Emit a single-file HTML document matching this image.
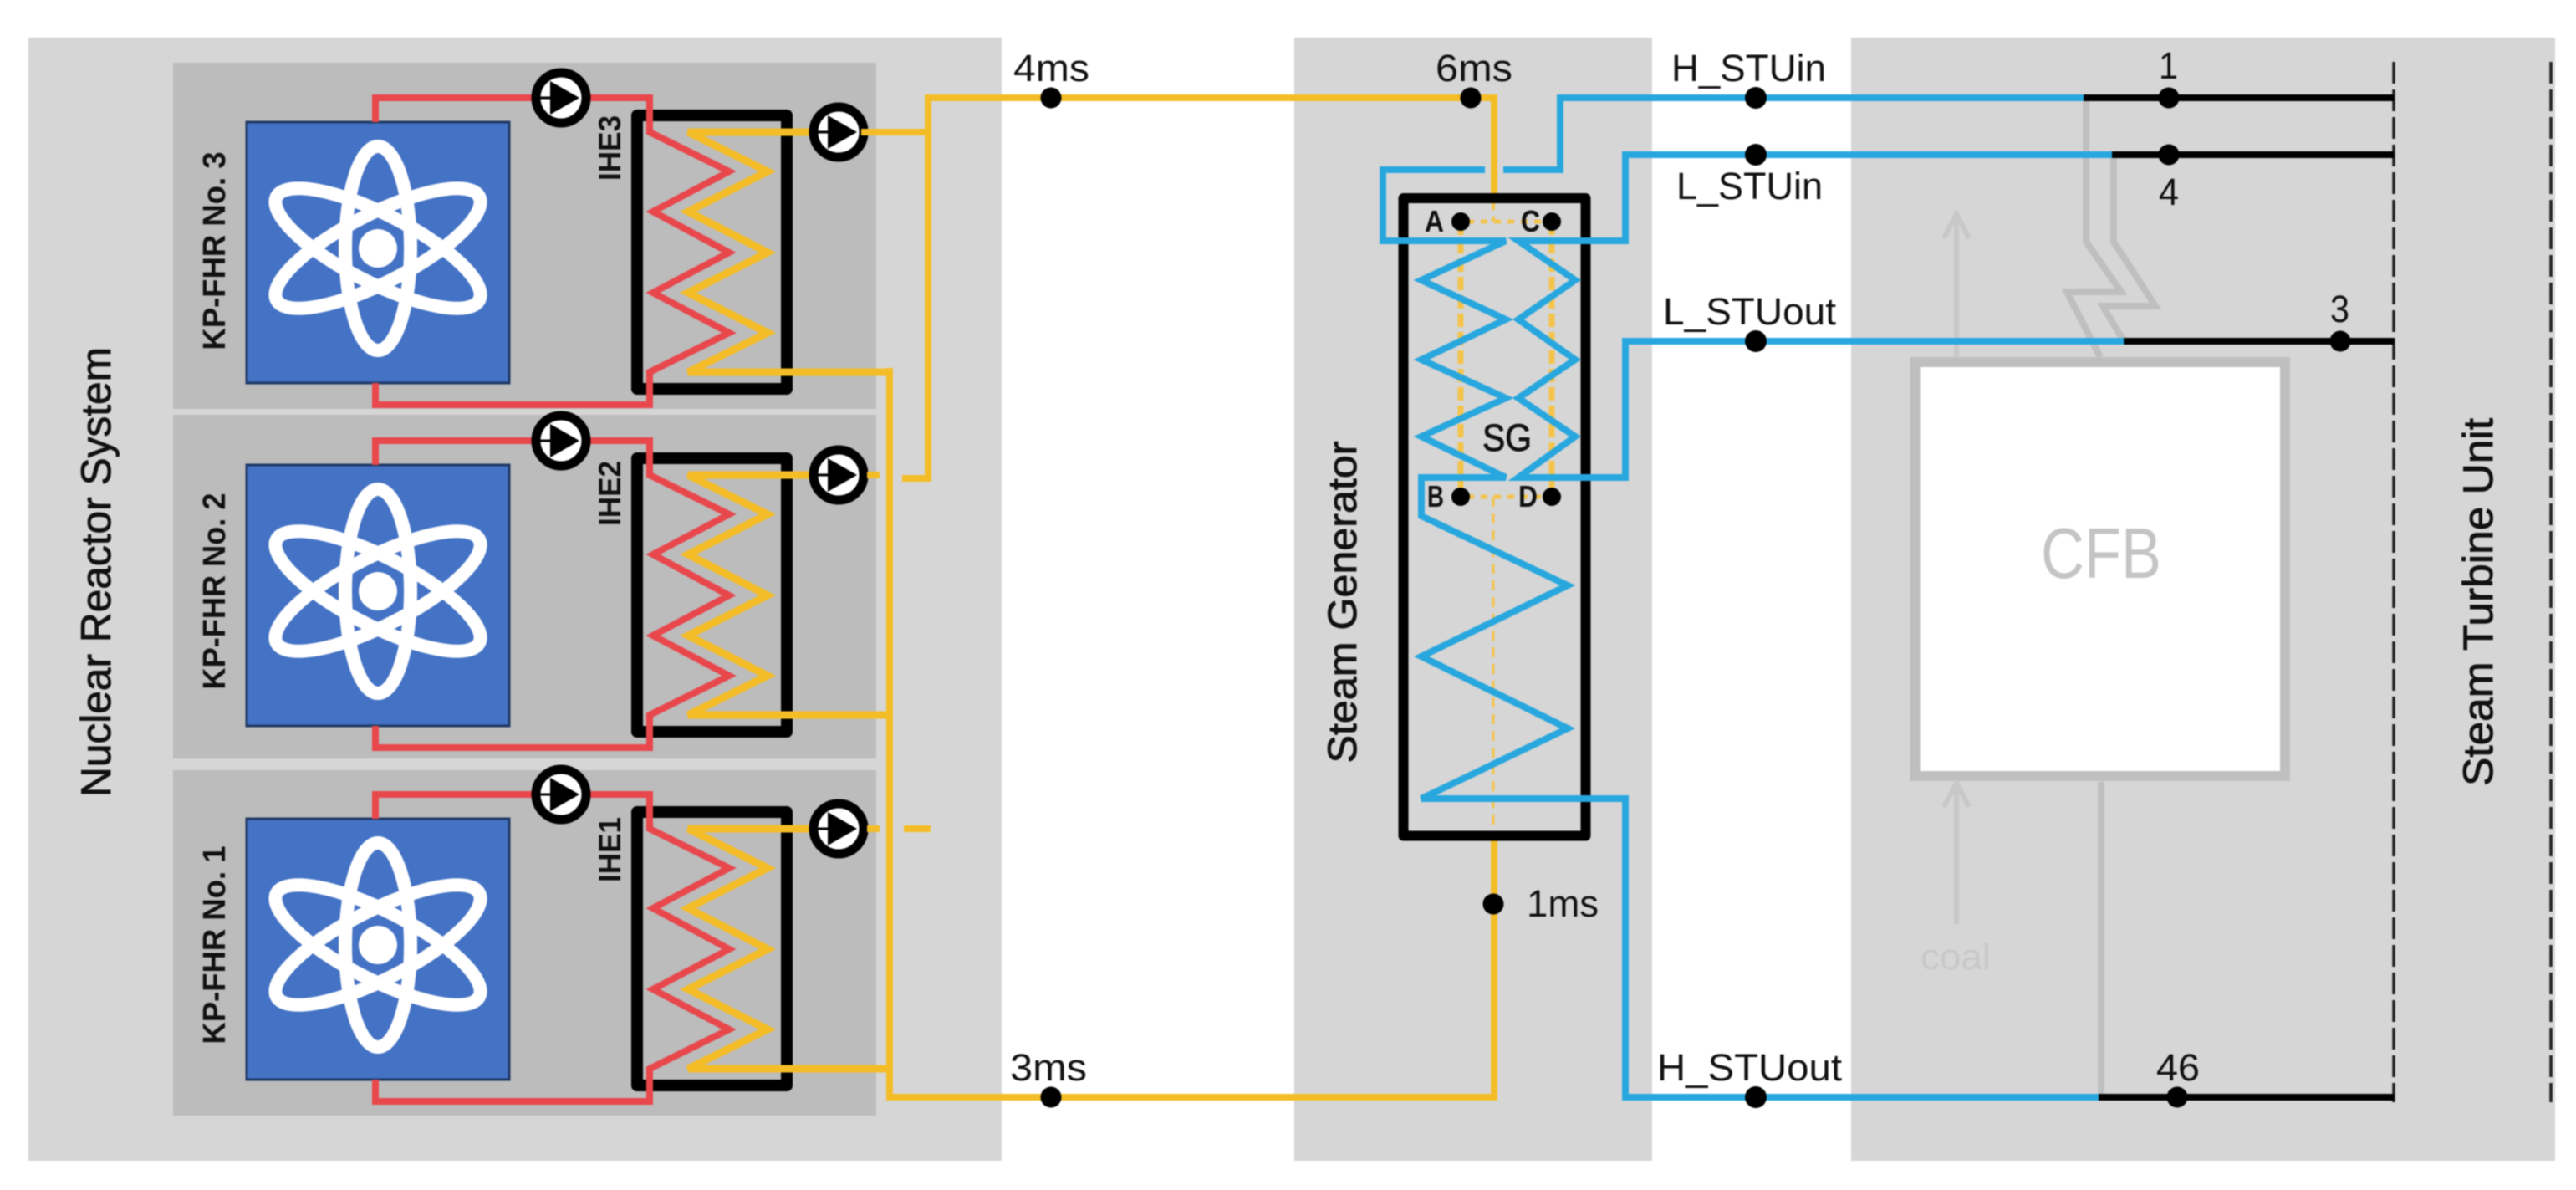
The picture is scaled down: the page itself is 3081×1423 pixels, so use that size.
<!DOCTYPE html>
<html lang="en">
<head>
<meta charset="utf-8">
<title>Nuclear reactor, steam generator and steam turbine system</title>
<style>
html,body{margin:0;padding:0;background:#fff;width:3081px;height:1423px;overflow:hidden}
svg{display:block;filter:blur(.9px)}
text{font-family:"Liberation Sans",sans-serif;fill:#111}
.b{font-weight:bold}
.s{stroke:#111;stroke-width:.9px}
</style>
</head>
<body>
<svg xmlns="http://www.w3.org/2000/svg" width="3081" height="1423" viewBox="0 0 3081 1423">
<defs>
<g id="unit">
  <rect x="295" y="146" width="314" height="312" fill="#4472c4" stroke="#1f3864" stroke-width="3"/>
  <g fill="none" stroke="#fff" stroke-width="16">
    <ellipse cx="452" cy="297" rx="39" ry="122"/>
    <ellipse cx="452" cy="297" rx="136" ry="41" transform="rotate(27 452 297)"/>
    <ellipse cx="452" cy="297" rx="136" ry="41" transform="rotate(-27 452 297)"/>
  </g>
  <circle cx="452" cy="297" r="23" fill="#fff"/>
  <rect x="762" y="138" width="179" height="327" fill="none" stroke="#000" stroke-width="14" stroke-linejoin="round"/>
  <path d="M449 146V117H777V158L872 205L781 253L872 302L781 350L872 398L777 445V484H449V458" fill="none" stroke="#e8474c" stroke-width="8"/>
  <path d="M1002 158H823L918 205L823 253L918 302L823 350L918 398L823 445H1064" fill="none" stroke="#f4bd27" stroke-width="9"/>
  <g id="pump">
    <circle cx="671" cy="117" r="30" fill="#fff" stroke="#000" stroke-width="11"/>
    <path d="M646 117H660" stroke="#000" stroke-width="3"/>
    <path d="M658 97L693 117L658 137Z" fill="#000"/>
  </g>
  <use href="#pump" x="332" y="41"/>
</g>
</defs>

<rect width="3081" height="1423" fill="#fff"/>
<rect x="34" y="45" width="1164" height="1343" fill="#d6d6d6"/>
<rect x="1548" y="45" width="428" height="1343" fill="#d6d6d6"/>
<rect x="2214" y="45" width="842" height="1343" fill="#d6d6d6"/>
<rect x="207" y="75" width="841" height="414" fill="#bcbcbc"/>
<rect x="207" y="496" width="841" height="411" fill="#bcbcbc"/>
<rect x="207" y="921" width="841" height="413" fill="#bcbcbc"/>

<use href="#unit"/>
<use href="#unit" y="410"/>
<use href="#unit" y="833"/>

<!-- hot-side yellow headers -->
<g fill="none" stroke="#f4bd27" stroke-width="8">
  <path d="M1030 158H1110"/>
  <path d="M1757 117H1110V572H1079"/>
  <path d="M1037 568H1052"/>
  <path d="M1037 991H1052M1081 991H1113"/>
  <path d="M1064 440V1312H1787V1005"/>
  <path d="M1759 117H1787V234"/>
</g>

<!-- dashed lines -->
<g fill="none" stroke="#222" stroke-width="3.5" stroke-dasharray="26 7">
  <path d="M2863 74V1318"/>
  <path d="M3051 74V1318"/>
</g>

<!-- CFB -->
<g fill="none" stroke="#bfbfbf" stroke-width="8">
  <path d="M2495 117V289L2537 349H2472L2512 427"/>
  <path d="M2528 185V289L2578 366H2515L2540 408"/>
  <path d="M2513 935V1312"/>
</g>
<rect x="2290.500" y="433" width="442.500" height="495" fill="#fff" stroke="#bfbfbf" stroke-width="12"/>
<g fill="none" stroke="#c8c8c8" stroke-width="6">
  <path d="M2340 427V258M2325 285L2340 256L2355 285"/>
  <path d="M2340 1105V938M2325 965L2340 936L2355 965"/>
</g>

<!-- SG box -->
<rect x="1678.500" y="237" width="218" height="762.500" fill="none" stroke="#000" stroke-width="12" stroke-linejoin="round"/>
<g fill="none" stroke="#f4c34a">
  <path d="M1747 265V594M1856 265V594" stroke-width="7" stroke-dasharray="16 6"/>
  <path d="M1755 265H1848M1755 594H1848" stroke-width="5" stroke-dasharray="8 8"/>
  <path d="M1786 243V265" stroke-width="4" stroke-dasharray="8 8"/>
  <path d="M1786 594V994" stroke-width="3" stroke-dasharray="12 8"/>
</g>

<!-- blue loops -->
<g fill="none" stroke="#28a7de" stroke-width="8">
  <path d="M2492 117H1866V203H1798M1776 203H1654V288H1801L1700 335L1801 382L1700 430L1801 476L1700 522L1801 571H1700V617L1875 700L1700 785L1875 871L1700 955H1944V1312H2510"/>
  <path d="M2526 185H1944V288H1816L1884 335L1816 382L1884 430L1816 476L1884 522L1816 571H1944V408H2540"/>
</g>

<!-- black outlets -->
<g fill="none" stroke="#000" stroke-width="8">
  <path d="M2492 117H2863M2526 185H2863M2540 408H2863M2510 1312H2863"/>
</g>

<!-- dots -->
<g fill="#000">
  <circle cx="1257" cy="117" r="12.500"/>
  <circle cx="1759" cy="117" r="12.500"/>
  <circle cx="2100" cy="117" r="13"/>
  <circle cx="2100" cy="185" r="13"/>
  <circle cx="2100" cy="408" r="13"/>
  <circle cx="2100" cy="1312" r="13"/>
  <circle cx="1257" cy="1312" r="12.500"/>
  <circle cx="1786" cy="1081" r="12.500"/>
  <circle cx="2594" cy="117" r="12.500"/>
  <circle cx="2594" cy="185" r="12.500"/>
  <circle cx="2799" cy="408" r="12.500"/>
  <circle cx="2604" cy="1312" r="12.500"/>
  <circle cx="1747" cy="265" r="11"/>
  <circle cx="1856" cy="265" r="11"/>
  <circle cx="1747" cy="594" r="11"/>
  <circle cx="1856" cy="594" r="11"/>
</g>

<!-- rotated labels -->
<text class="s" transform="translate(132 684) rotate(-90)" text-anchor="middle" font-size="50" textLength="538" lengthAdjust="spacingAndGlyphs">Nuclear Reactor System</text>
<g class="b">
  <text class="b" transform="translate(269 300) rotate(-90)" text-anchor="middle" font-size="38" textLength="237" lengthAdjust="spacingAndGlyphs">KP-FHR No. 3</text>
  <text class="b" transform="translate(269 707) rotate(-90)" text-anchor="middle" font-size="38" textLength="235" lengthAdjust="spacingAndGlyphs">KP-FHR No. 2</text>
  <text class="b" transform="translate(269 1130) rotate(-90)" text-anchor="middle" font-size="38" textLength="237" lengthAdjust="spacingAndGlyphs">KP-FHR No. 1</text>
  <text class="b" transform="translate(742 177) rotate(-90)" text-anchor="middle" font-size="37" textLength="78" lengthAdjust="spacingAndGlyphs">IHE3</text>
  <text class="b" transform="translate(742 590) rotate(-90)" text-anchor="middle" font-size="37" textLength="78" lengthAdjust="spacingAndGlyphs">IHE2</text>
  <text class="b" transform="translate(742 1016) rotate(-90)" text-anchor="middle" font-size="37" textLength="78" lengthAdjust="spacingAndGlyphs">IHE1</text>
</g>
<text class="s" transform="translate(1622 720) rotate(-90)" text-anchor="middle" font-size="48" textLength="385" lengthAdjust="spacingAndGlyphs">Steam Generator</text>
<text class="s" transform="translate(2981 720) rotate(-90)" text-anchor="middle" font-size="50" textLength="440" lengthAdjust="spacingAndGlyphs">Steam Turbine Unit</text>

<!-- horizontal labels -->
<g font-size="45">
  <text x="1212" y="97" textLength="91" lengthAdjust="spacingAndGlyphs">4ms</text>
  <text x="1717" y="97" textLength="92" lengthAdjust="spacingAndGlyphs">6ms</text>
  <text x="1208" y="1292" textLength="92" lengthAdjust="spacingAndGlyphs">3ms</text>
  <text x="1826" y="1096" textLength="86" lengthAdjust="spacingAndGlyphs">1ms</text>
  <text x="1999" y="97" textLength="185" lengthAdjust="spacingAndGlyphs">H_STUin</text>
  <text x="2005" y="238" textLength="175" lengthAdjust="spacingAndGlyphs">L_STUin</text>
  <text x="1989" y="388" textLength="207" lengthAdjust="spacingAndGlyphs">L_STUout</text>
  <text x="1982" y="1292" textLength="221" lengthAdjust="spacingAndGlyphs">H_STUout</text>
  <text x="2582" y="94" textLength="23" lengthAdjust="spacingAndGlyphs">1</text>
  <text x="2582" y="245" textLength="24" lengthAdjust="spacingAndGlyphs">4</text>
  <text x="2787" y="385" textLength="23" lengthAdjust="spacingAndGlyphs">3</text>
  <text x="2579" y="1292" textLength="52" lengthAdjust="spacingAndGlyphs">46</text>
  <text class="s" x="1773" y="539" textLength="59" lengthAdjust="spacingAndGlyphs">SG</text>
</g>
<g class="b" font-size="36">
  <text x="1704" y="277" textLength="23" lengthAdjust="spacingAndGlyphs">A</text>
  <text x="1819" y="277" textLength="23" lengthAdjust="spacingAndGlyphs">C</text>
  <text x="1707" y="606" textLength="20" lengthAdjust="spacingAndGlyphs">B</text>
  <text x="1816" y="606" textLength="23" lengthAdjust="spacingAndGlyphs">D</text>
</g>
<text x="2441" y="691" font-size="85" textLength="144" lengthAdjust="spacingAndGlyphs" style="fill:#c4c4c4">CFB</text>
<text x="2297" y="1159" font-size="44" textLength="84" lengthAdjust="spacingAndGlyphs" style="fill:#c8c8c8">coal</text>
</svg>
</body>
</html>
